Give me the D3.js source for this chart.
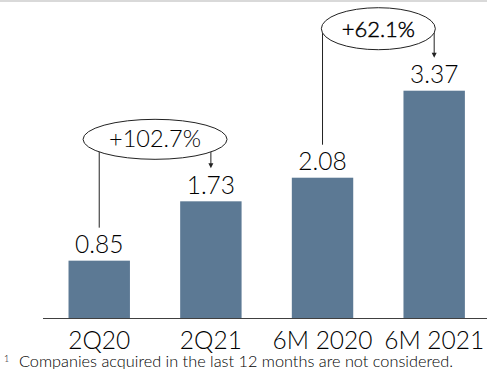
<!DOCTYPE html>
<html>
<head>
<meta charset="utf-8">
<script src="https://cdn.jsdelivr.net/npm/d3@7"></script>
<style>
  html, body { margin: 0; padding: 0; background: #fff; }
  svg { display: block; }
</style>
</head>
<body>
<svg id="chart" width="487" height="369"></svg>
<script>
// ---- data ----
const categories = ["2Q20", "2Q21", "6M 2020", "6M 2021"];
const values = [0.85, 1.73, 2.08, 3.37];
const valueLabels = ["0.85", "1.73", "2.08", "3.37"];
const annFrom = [0, 2];
const annTo = [1, 3];
const annLabels = ["+102.7%", "+62.1%"];
const footnote = "Companies acquired in the last 12 months are not considered.";

// ---- layout ----
const W = 487, H = 369;
const baseY = 318;
const svg = d3.select("#chart");
const mainFont = "'Lato Light', Lato, 'Noto Sans', sans-serif";

const x = d3.scaleBand().domain(categories).range([43.4, 490]).paddingInner(0.45).paddingOuter(0.225);
const y = d3.scaleLinear().domain([0, 4.7]).range([baseY, 1]);

// top rule
svg.append("line").attr("x1", 0).attr("x2", W).attr("y1", 1).attr("y2", 1)
  .attr("stroke", "#d9d9d9").attr("stroke-width", 2);

// bars
svg.selectAll("rect.bar").data(values).join("rect").attr("class", "bar")
  .attr("x", (d, i) => x(categories[i]))
  .attr("width", x.bandwidth())
  .attr("y", d => y(d))
  .attr("height", d => baseY - y(d))
  .attr("fill", "#5c7994");

// baseline axis
const xAxis = d3.axisBottom(x).tickSize(0).tickPadding(0);
const axG = svg.append("g").attr("transform", `translate(0,${baseY})`).call(xAxis);
axG.select(".domain").attr("d", `M43,0.5H487`).attr("stroke", "#404040").attr("stroke-width", 1.2);
axG.selectAll(".tick text")
  .attr("y", 31.3).attr("dy", 0)
  .attr("font-family", mainFont).attr("font-weight", 300).attr("font-size", 24.5).attr("fill", "#000");

// value labels
svg.selectAll("text.val").data(values).join("text").attr("class", "val")
  .attr("x", (d, i) => x(categories[i]) + x.bandwidth() / 2)
  .attr("y", d => y(d) - 7.7)
  .attr("text-anchor", "middle")
  .attr("font-family", mainFont).attr("font-weight", 300).attr("font-size", 24.5).attr("fill", "#000")
  .text((d, i) => valueLabels[i]);

// annotations
const cx = i => x(categories[i]) + x.bandwidth() / 2;
const annRx = [72, 57];
const annRy = [20, 21];
const annFonts = [
  { s: 23.5, sw: 0 },
  { s: 22, sw: 0.45 }
];
annFrom.forEach((fi, k) => {
  const ti = annTo[k];
  const ex = (cx(fi) + cx(ti)) / 2;
  const ey = y(values[ti]) - 62;
  const g = svg.append("g");
  g.append("line").attr("x1", cx(fi)).attr("x2", cx(fi))
    .attr("y1", ey).attr("y2", y(values[fi]) - 33)
    .attr("stroke", "#222").attr("stroke-width", 1);
  const ay2 = y(values[ti]) - 33;
  g.append("line").attr("x1", cx(ti)).attr("x2", cx(ti))
    .attr("y1", ey).attr("y2", ay2 - 4)
    .attr("stroke", "#222").attr("stroke-width", 1);
  g.append("path")
    .attr("d", `M${cx(ti) - 2.5},${ay2 - 5}L${cx(ti) + 2.5},${ay2 - 5}L${cx(ti)},${ay2}Z`)
    .attr("fill", "#222");
  g.append("ellipse").attr("cx", ex).attr("cy", ey)
    .attr("rx", annRx[k]).attr("ry", annRy[k])
    .attr("fill", "#fff").attr("stroke", "#222").attr("stroke-width", 1);
  const t = g.append("text").attr("x", ex).attr("y", ey + 8)
    .attr("text-anchor", "middle")
    .attr("font-family", mainFont).attr("font-weight", 300)
    .attr("font-size", annFonts[k].s).attr("fill", "#000")
    .text(annLabels[k]);
  if (annFonts[k].sw > 0) t.attr("stroke", "#000").attr("stroke-width", annFonts[k].sw);
});

// footnote
const fn = svg.append("text").attr("x", 4).attr("y", 366.5)
  .attr("font-family", mainFont).attr("font-weight", 300).attr("font-size", 15.5).attr("fill", "#000");
fn.append("tspan").attr("font-size", 9).attr("dy", -5).text("1");
fn.append("tspan").attr("x", 19).attr("dy", 5)
  .attr("textLength", 434).attr("lengthAdjust", "spacingAndGlyphs")
  .text(footnote);
</script>
</body>
</html>
